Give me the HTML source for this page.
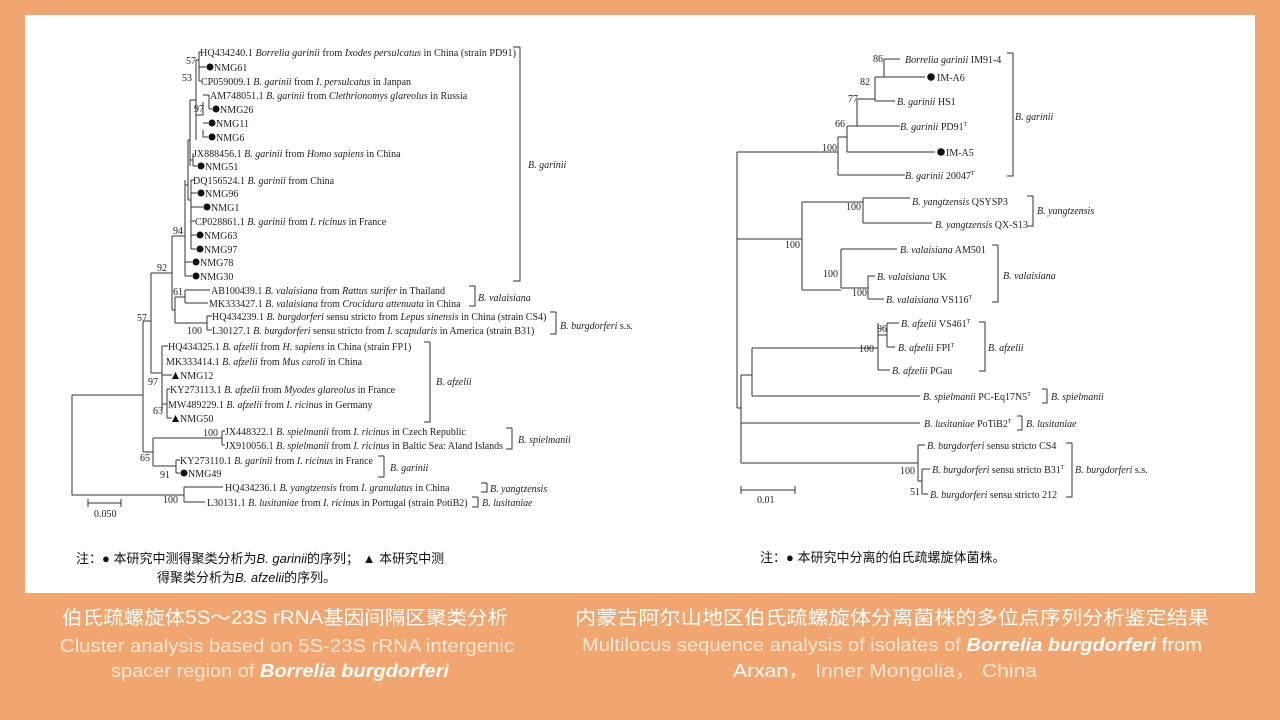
<!DOCTYPE html>
<html><head><meta charset="utf-8"><style>
body{margin:0;background:#F2A66F;}
svg{display:block}
.t{font-family:"Liberation Serif","Noto Serif CJK SC",serif;font-size:10px;fill:#222}
.i{font-style:italic}
.n{font-family:"Liberation Sans","Noto Sans CJK SC",sans-serif;font-size:13px;fill:#111}
.c{font-family:"Liberation Sans","Noto Sans CJK SC",sans-serif;font-size:19px;fill:#fff}
.e{font-family:"Liberation Sans","Noto Sans CJK SC",sans-serif;font-size:18px;fill:#FCE7D8}
</style></head><body>
<svg width="1280" height="720" viewBox="0 0 1280 720" xmlns="http://www.w3.org/2000/svg">
<rect x="0" y="0" width="1280" height="720" fill="#F2A66F"/>
<rect x="25" y="15" width="1230" height="578" fill="#fff"/>
<g stroke="#333" stroke-width="1" fill="none">
<path d="M72 395V495M72 395H143M72 495H184M184 487V502M184 487H223M184 502H205"/>
<path d="M143 321V452M143 321H151M151 273V373M151 273H172M151 373H162"/>
<path d="M172 236V310M172 236H185M172 310H175M175 297V323M175 297H185M185 290V303M185 290H210M185 303H208M175 323H207M207 316V330M207 316H212M207 330H212"/>
<path d="M185 180V276M185 262H192M185 276H192M185 185H188M188 140V200M188 140H190M190 100V166M190 100H196M196 60V140M196 60H199M199 52V81M199 52H201M199 81H201M199 67H206M196 115H203M203 102V115M203 95H209M209 95V109M209 109H212M203 123H208M203 130V137M203 137H208M190 160H193M193 153V166M193 166H197M188 200H191M191 180V249M191 180H195M191 193H197M191 207H203M191 221H195M191 235H196M191 249H196"/>
<path d="M162 346V410M162 346H168M162 375H172M162 404H167M167 389V418M167 389H170M167 418H172"/>
<path d="M143 452H153M153 438V466M153 438H222M222 431V445M222 431H225M222 445H225M153 466H176M176 460V473M176 460H180M176 473H180"/>
<path d="M520 47V281H513M520 47H513M475 286V306H469M475 286H469M556 312V334H550M556 312H550M430 342V422H424M430 342H424M512 428V449H506M512 428H506M384 456V477H378M384 456H378M487 483V492H481M487 483H481M478 497V507H472M478 497H472"/>
<path d="M88 503H121M88 499V507M121 499V507"/>
<path d="M737 152V408M737 152H838M838 137V175M838 175H905M838 137H847M847 126V152M847 152H935M847 126H857M857 99V126M857 126H900M857 99H875M875 77V101M875 101H895M875 77H884M884 59V77M884 59H900M884 77H925"/>
<path d="M1013 53V176H1007M1013 53H1007"/>
<path d="M737 239H802M802 202V290M802 202H863M863 198V223M863 198H910M863 223H932M802 290H841M841 249V288M841 249H897M841 288H868M868 276V299M868 276H875M868 299H884"/>
<path d="M1033 196V226H1027M1033 196H1027M998 245V302H992M998 245H992M985 322V371H979M985 322H979M1047 389V403H1042M1047 389H1042M1022 416V430H1017M1022 416H1017M1072 443V497H1066M1072 443H1066"/>
<path d="M737 408H741M741 375V463M741 375H752M752 348V396M752 348H878M878 323V370M878 370H890M878 335H887M887 323V347M887 323H899M887 347H895M752 396H920M741 423H920M741 463H918M918 445V481M918 445H925M918 481H922M922 469V494M922 469H930M922 494H928"/>
<path d="M741 490H795M741 486V494M795 486V494"/>
</g>
<g fill="#111">
<circle cx="210" cy="67" r="3.5"/><circle cx="216" cy="109" r="3.5"/><circle cx="212" cy="123" r="3.5"/><circle cx="212" cy="137" r="3.5"/>
<circle cx="201" cy="166" r="3.5"/><circle cx="201" cy="193" r="3.5"/><circle cx="207" cy="207" r="3.5"/><circle cx="200" cy="235" r="3.5"/>
<circle cx="200" cy="249" r="3.5"/><circle cx="196" cy="262" r="3.5"/><circle cx="196" cy="276" r="3.5"/><circle cx="184" cy="473" r="3.5"/>
<path d="M172 379l3.5-7 3.5 7z"/><path d="M172 422l3.5-7 3.5 7z"/>
<circle cx="931" cy="77" r="3.8"/><circle cx="941" cy="152" r="3.8"/>
</g>
<g class="t">
<text x="200" y="56" textLength="316" lengthAdjust="spacingAndGlyphs">HQ434240.1 <tspan class="i">Borrelia garinii</tspan> from <tspan class="i">Ixodes persulcatus</tspan> in China (strain PD91)</text>
<text x="214" y="71">NMG61</text>
<text x="201" y="85">CP059009.1 <tspan class="i">B. garinii</tspan> from <tspan class="i">I. persulcatus</tspan> in Janpan</text>
<text x="210" y="99">AM748051.1 <tspan class="i">B. garinii</tspan> from <tspan class="i">Clethrionomys glareolus</tspan> in Russia</text>
<text x="220" y="113">NMG26</text><text x="216" y="127">NMG11</text><text x="216" y="141">NMG6</text>
<text x="193" y="157">JX888456.1 <tspan class="i">B. garinii</tspan> from <tspan class="i">Homo sapiens</tspan> in China</text>
<text x="205" y="170">NMG51</text>
<text x="193" y="184">DQ156524.1 <tspan class="i">B. garinii</tspan> from China</text>
<text x="205" y="197">NMG96</text><text x="211" y="211">NMG1</text>
<text x="195" y="225">CP028861.1 <tspan class="i">B. garinii</tspan> from <tspan class="i">I. ricinus</tspan> in France</text>
<text x="204" y="239">NMG63</text><text x="204" y="253">NMG97</text><text x="200" y="266">NMG78</text><text x="200" y="280">NMG30</text>
<text x="211" y="294">AB100439.1 <tspan class="i">B. valaisiana</tspan> from <tspan class="i">Rattus surifer</tspan> in Thailand</text>
<text x="209" y="307">MK333427.1 <tspan class="i">B. valaisiana</tspan> from <tspan class="i">Crocidura attenuata</tspan> in China</text>
<text x="212" y="320">HQ434239.1 <tspan class="i">B. burgdorferi</tspan> sensu stricto from <tspan class="i">Lepus sinensis</tspan> in China (strain CS4)</text>
<text x="212" y="334">L30127.1 <tspan class="i">B. burgdorferi</tspan> sensu stricto from <tspan class="i">I. scapularis</tspan> in America (strain B31)</text>
<text x="168" y="350">HQ434325.1 <tspan class="i">B. afzelii</tspan> from <tspan class="i">H. sapiens</tspan> in China (strain FP1)</text>
<text x="166" y="365">MK333414.1 <tspan class="i">B. afzelii</tspan> from <tspan class="i">Mus caroli</tspan> in China</text>
<text x="180" y="379">NMG12</text>
<text x="170" y="393">KY273113.1 <tspan class="i">B. afzelii</tspan> from <tspan class="i">Myodes glareolus</tspan> in France</text>
<text x="168" y="408">MW489229.1 <tspan class="i">B. afzelii</tspan> from <tspan class="i">I. ricinus</tspan> in Germany</text>
<text x="180" y="422">NMG50</text>
<text x="225" y="435">JX448322.1 <tspan class="i">B. spielmanii</tspan> from <tspan class="i">I. ricinus</tspan> in Czech Republic</text>
<text x="225" y="449">JX910056.1 <tspan class="i">B. spielmanii</tspan> from <tspan class="i">I. ricinus</tspan> in Baltic Sea: Aland Islands</text>
<text x="180" y="464">KY273110.1 <tspan class="i">B. garinii</tspan> from <tspan class="i">I. ricinus</tspan> in France</text>
<text x="188" y="477">NMG49</text>
<text x="225" y="491">HQ434236.1 <tspan class="i">B. yangtzensis</tspan> from <tspan class="i">I. granulatus</tspan> in China</text>
<text x="207" y="506">L30131.1 <tspan class="i">B. lusitaniae</tspan> from <tspan class="i">I. ricinus</tspan> in Portugal (strain PotiB2)</text>
<text x="528" y="168" class="i">B. garinii</text>
<text x="478" y="301" class="i">B. valaisiana</text>
<text x="560" y="329"><tspan class="i">B. burgdorferi</tspan> s.s.</text>
<text x="436" y="385" class="i">B. afzelii</text>
<text x="518" y="443" class="i">B. spielmanii</text>
<text x="390" y="471" class="i">B. garinii</text>
<text x="490" y="492" class="i">B. yangtzensis</text>
<text x="482" y="506" class="i">B. lusitaniae</text>
<text x="186" y="64">57</text><text x="182" y="81">53</text><text x="194" y="112">97</text>
<text x="173" y="234">94</text><text x="157" y="271">92</text><text x="173" y="295">61</text><text x="187" y="334">100</text>
<text x="137" y="321">57</text><text x="148" y="385">97</text><text x="153" y="414">63</text>
<text x="203" y="436">100</text><text x="140" y="461">65</text><text x="160" y="478">91</text><text x="163" y="503">100</text>
<text x="94" y="517">0.050</text>
<text x="905" y="63"><tspan class="i">Borrelia garinii</tspan> IM91-4</text>
<text x="937" y="81">IM-A6</text>
<text x="897" y="105"><tspan class="i">B. garinii</tspan> HS1</text>
<text x="900" y="130"><tspan class="i">B. garinii</tspan> PD91<tspan font-size="6" dy="-4">T</tspan></text>
<text x="946" y="156">IM-A5</text>
<text x="905" y="179"><tspan class="i">B. garinii</tspan> 20047<tspan font-size="6" dy="-4">T</tspan></text>
<text x="912" y="205"><tspan class="i">B. yangtzensis</tspan> QSYSP3</text>
<text x="935" y="228"><tspan class="i">B. yangtzensis</tspan> QX-S13</text>
<text x="900" y="253"><tspan class="i">B. valaisiana</tspan> AM501</text>
<text x="877" y="280"><tspan class="i">B. valaisiana</tspan> UK</text>
<text x="886" y="303"><tspan class="i">B. valaisiana</tspan> VS116<tspan font-size="6" dy="-4">T</tspan></text>
<text x="901" y="327"><tspan class="i">B. afzelii</tspan> VS461<tspan font-size="6" dy="-4">T</tspan></text>
<text x="898" y="351"><tspan class="i">B. afzelii</tspan> FPI<tspan font-size="6" dy="-4">T</tspan></text>
<text x="892" y="374"><tspan class="i">B. afzelii</tspan> PGau</text>
<text x="923" y="400"><tspan class="i">B. spielmanii</tspan> PC-Eq17N5<tspan font-size="6" dy="-4">T</tspan></text>
<text x="924" y="427"><tspan class="i">B. lusitaniae</tspan> PoTiB2<tspan font-size="6" dy="-4">T</tspan></text>
<text x="927" y="449"><tspan class="i">B. burgdorferi</tspan> sensu stricto CS4</text>
<text x="932" y="473"><tspan class="i">B. burgdorferi</tspan> sensu stricto B31<tspan font-size="6" dy="-4">T</tspan></text>
<text x="930" y="498"><tspan class="i">B. burgdorferi</tspan> sensu stricto 212</text>
<text x="1015" y="120" class="i">B. garinii</text>
<text x="1037" y="214" class="i">B. yangtzensis</text>
<text x="1003" y="279" class="i">B. valaisiana</text>
<text x="988" y="351" class="i">B. afzelii</text>
<text x="1051" y="400" class="i">B. spielmanii</text>
<text x="1026" y="427" class="i">B. lusitaniae</text>
<text x="1075" y="473"><tspan class="i">B. burgdorferi</tspan> s.s.</text>
<text x="873" y="62">86</text><text x="860" y="85">82</text><text x="848" y="102">77</text><text x="835" y="127">66</text>
<text x="822" y="151">100</text><text x="846" y="210">100</text><text x="785" y="248">100</text>
<text x="823" y="277">100</text><text x="852" y="296">100</text><text x="877" y="332">96</text><text x="859" y="352">100</text>
<text x="900" y="474">100</text><text x="910" y="495">51</text>
<text x="757" y="503">0.01</text>
</g>
<text class="n" x="76" y="563">注：● 本研究中测得聚类分析为<tspan font-style="italic">B. garinii</tspan>的序列； ▲ 本研究中测</text>
<text class="n" x="157" y="582">得聚类分析为<tspan font-style="italic">B. afzelii</tspan>的序列。</text>
<text class="n" x="760" y="562">注：● 本研究中分离的伯氏疏螺旋体菌株。</text>
<text class="c" x="285" y="624" text-anchor="middle" textLength="446" lengthAdjust="spacingAndGlyphs">伯氏疏螺旋体5S～23S rRNA基因间隔区聚类分析</text>
<text class="e" x="287" y="652" text-anchor="middle" textLength="454" lengthAdjust="spacingAndGlyphs">Cluster analysis based on 5S-23S rRNA intergenic</text>
<text class="e" x="280" y="677" text-anchor="middle" textLength="338" lengthAdjust="spacingAndGlyphs">spacer region of <tspan font-style="italic" font-weight="bold" fill="#fff">Borrelia burgdorferi</tspan></text>
<text class="c" x="892" y="624" text-anchor="middle" textLength="634" lengthAdjust="spacingAndGlyphs">内蒙古阿尔山地区伯氏疏螺旋体分离菌株的多位点序列分析鉴定结果</text>
<text class="e" x="892" y="651" text-anchor="middle" textLength="620" lengthAdjust="spacingAndGlyphs">Multilocus sequence analysis of isolates of <tspan font-style="italic" font-weight="bold" fill="#fff">Borrelia burgdorferi</tspan><tspan fill="#fff"> from</tspan></text>
<text class="e" x="885" y="677" text-anchor="middle" textLength="304" lengthAdjust="spacingAndGlyphs"><tspan fill="#fff">Arxan</tspan>，  Inner Mongolia，  China</text>
</svg>
</body></html>
